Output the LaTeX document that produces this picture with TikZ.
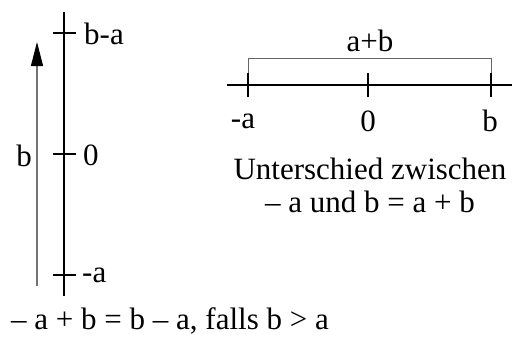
\documentclass[tikz,border=0pt]{standalone}
\usepackage{fontspec}
\setmainfont{Liberation Serif}
\usetikzlibrary{arrows.meta}
\begin{document}
\begin{tikzpicture}[x=1pt,y=-1pt,
  axis/.style={line width=1.6pt,black},
  tick/.style={line width=1.3pt,black},
  lbl/.style={font=\fontsize{31}{33}\selectfont,inner sep=0pt},
  brk/.style={line width=0.8pt,black!60}]
\useasboundingbox (0,0) rectangle (529,346);
% vertical number line
\coordinate (vtop) at (64,12);
\coordinate (vbot) at (64,296);
\draw[axis] (vtop) -- (vbot);
\coordinate (t1a) at (53,33); \coordinate (t1b) at (76,33);
\coordinate (t2a) at (53,154); \coordinate (t2b) at (76,154);
\coordinate (t3a) at (53,275); \coordinate (t3b) at (76,275);
\draw[tick] (t1a) -- (t1b);
\draw[tick] (t2a) -- (t2b);
\draw[tick] (t3a) -- (t3b);
\node[lbl,anchor=west] (ba) at (84,34) {b-a};
\node[lbl,anchor=west] (z1) at (83,155) {0};
\node[lbl,anchor=west] (ma1) at (82,275) {-a};
% arrow b
\coordinate (as) at (37,286);
\coordinate (ae) at (37,42);
\draw[line width=1.2pt,black!55,-{Triangle[length=24pt,width=12pt,fill=black,color=black]}] (as) -- (ae);
\node[lbl,anchor=east] (bl) at (32,156) {b};
% horizontal number line
\coordinate (hl) at (227,85);
\coordinate (hr) at (512,85);
\draw[axis] (hl) -- (hr);
\coordinate (h1a) at (248,73); \coordinate (h1b) at (248,97);
\coordinate (h2a) at (368,73); \coordinate (h2b) at (368,97);
\coordinate (h3a) at (491,73); \coordinate (h3b) at (491,97);
\draw[tick] (h1a) -- (h1b);
\draw[tick] (h2a) -- (h2b);
\draw[tick] (h3a) -- (h3b);
\node[lbl] (ma2) at (243,121) {-a};
\node[lbl] (z2) at (368,121) {0};
\node[lbl] (b2) at (490,121) {b};
% bracket
\coordinate (bk1) at (248,58);
\coordinate (bk2) at (491,58);
\draw[brk] (h1a) -- (bk1) -- (bk2) -- (h3a);
\node[lbl] (apb) at (370,41) {a+b};
\node[lbl,align=center] (txt) at (370,185) {Unterschied zwischen\\– a und b = a + b};
\node[lbl,anchor=west] (bot) at (11,321) {– a + b = b – a, falls b > a};
\end{tikzpicture}
\end{document}
